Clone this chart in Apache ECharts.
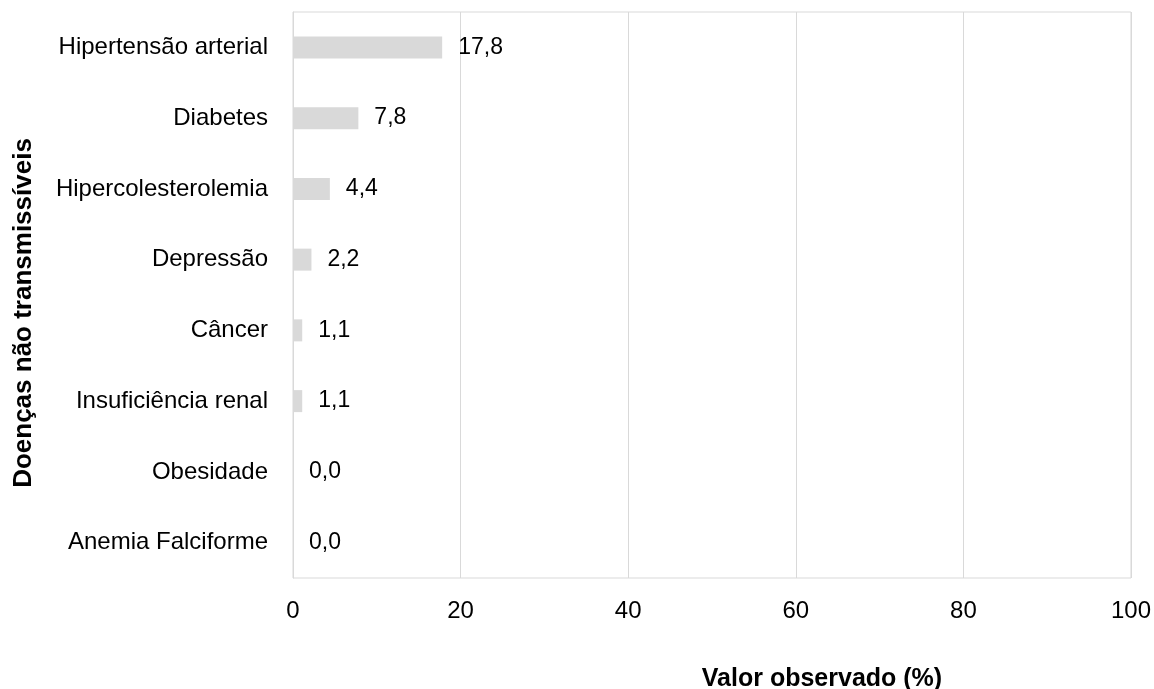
<!DOCTYPE html>
<html><head><meta charset="utf-8">
<script src="https://cdn.jsdelivr.net/npm/echarts@6/dist/echarts.min.js"></script>
<style>html,body{margin:0;padding:0;background:#fff}#c{width:1154px;height:689px}</style>
</head><body><div id="c"></div>
<script>
var categories = ["Hipertensão arterial","Diabetes","Hipercolesterolemia","Depressão","Câncer","Insuficiência renal","Obesidade","Anemia Falciforme"];
var values = [17.8, 7.8, 4.4, 2.2, 1.1, 1.1, 0.0, 0.0];
var xTicks = [0, 20, 40, 60, 80, 100];
var xTitle = 'Valor observado (%)';
var yTitle = 'Doenças não transmissíveis';

var font = "'Liberation Sans', Arial, sans-serif";
var chart = echarts.init(document.getElementById('c'));
chart.setOption({
  animation: false,
  backgroundColor: '#fff',
  textStyle: {fontFamily: font},
  title: {
    text: xTitle,
    left: 817, top: 662, textAlign: 'center',
    textStyle: {fontFamily: font, fontSize: 25, fontWeight: 'bold', color: '#000'}
  },
  graphic: [{
    type: 'text', x: 24, y: 313, rotation: Math.PI / 2,
    style: {text: yTitle, fontFamily: font, fontSize: 26, fontWeight: 'bold', fill: '#000',
      align: 'center', verticalAlign: 'middle'}
  }],
  grid: {left: 293, right: 22, top: 12, bottom: 111, show: true, borderColor: '#d9d9d9', borderWidth: 1},
  xAxis: {
    type: 'value', min: xTicks[0], max: xTicks[xTicks.length-1], interval: 20,
    axisLine: {show: false}, axisTick: {show: false},
    splitLine: {show: true, lineStyle: {color: '#d9d9d9', width: 1}},
    axisLabel: {color: '#000', fontSize: 24, margin: 21, fontFamily: font}
  },
  yAxis: {
    type: 'category', data: categories, inverse: true,
    axisLine: {show: true, lineStyle: {color: '#d9d9d9'}}, axisTick: {show: false},
    axisLabel: {color: '#000', fontSize: 24, margin: 25, fontFamily: font}
  },
  series: [{
    type: 'bar', data: values, barWidth: 22,
    itemStyle: {color: '#d9d9d9'},
    label: {show: true, position: 'right', distance: 16, color: '#000', fontSize: 23, fontFamily: font,
      formatter: function(p){ return p.value.toFixed(1).replace('.', ','); }}
  }]
});
</script></body></html>
